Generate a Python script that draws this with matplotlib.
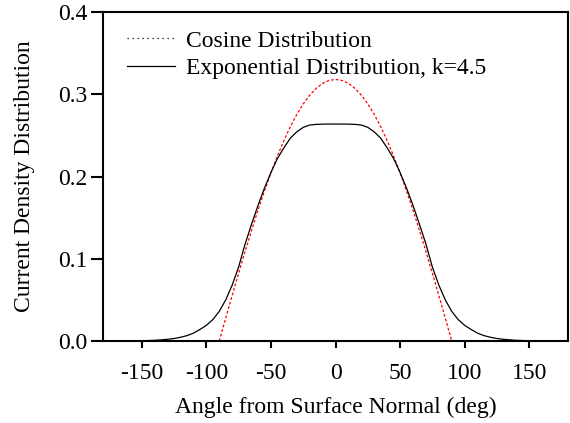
import matplotlib.pyplot as plt
from matplotlib.lines import Line2D
from matplotlib.ticker import FixedLocator

plt.rcParams['font.family'] = ['Liberation Serif', 'DejaVu Serif']

# cosine distribution
cos_angle = [-90, -85, -80, -75, -70, -65, -60, -55, -50, -45, -40, -35, -30, -25, -20, -15, -10, -5,
             0, 5, 10, 15, 20, 25, 30, 35, 40, 45, 50, 55, 60, 65, 70, 75, 80, 85, 90]
cos_value = [0.0, 0.0277, 0.0553, 0.0824, 0.1089, 0.1345, 0.1592, 0.1826, 0.2046, 0.2251, 0.2438,
             0.2607, 0.2757, 0.2885, 0.2991, 0.3075, 0.3135, 0.3171,
             0.3183, 0.3171, 0.3135, 0.3075, 0.2991, 0.2885, 0.2757, 0.2607, 0.2438, 0.2251,
             0.2046, 0.1826, 0.1592, 0.1345, 0.1089, 0.0824, 0.0553, 0.0277, 0.0]

# exponential distribution, k=4.5
exp_angle = [-180, -170, -160, -150, -140, -130, -125, -120, -115, -110, -105, -100, -95, -90,
             -85, -80, -75, -70, -65, -60, -55, -50, -45, -40, -35, -30, -25, -20, -15, -10, -5,
             0, 5, 10, 15, 20, 25, 30, 35, 40, 45, 50, 55, 60, 65, 70, 75, 80, 85,
             90, 95, 100, 105, 110, 115, 120, 125, 130, 140, 150, 160, 170, 180]
exp_value = [0.0, 0.0, 0.0001, 0.0003, 0.0008, 0.002, 0.003, 0.0045, 0.0065, 0.0095, 0.014, 0.019,
             0.026, 0.036, 0.050, 0.068, 0.090, 0.118, 0.142, 0.165, 0.186, 0.205, 0.222, 0.235,
             0.2468, 0.2545, 0.260, 0.2628, 0.2636, 0.2639, 0.2640,
             0.2640, 0.2640, 0.2639, 0.2636, 0.2628, 0.260, 0.2545, 0.2468, 0.235, 0.222, 0.205,
             0.186, 0.165, 0.142, 0.118, 0.090, 0.068, 0.050,
             0.036, 0.026, 0.019, 0.014, 0.0095, 0.0065, 0.0045, 0.003, 0.002, 0.0008, 0.0003,
             0.0001, 0.0, 0.0]

x_ticks = [-150, -100, -50, 0, 50, 100, 150]
long_ticks = [-100, 0, 100]
y_ticks = [0.0, 0.1, 0.2, 0.3, 0.4]

fig = plt.figure(figsize=(5.7, 4.23), dpi=100)
ax = fig.add_axes([0.1807, 0.1939, 0.8158, 0.777])

ax.plot(cos_angle, cos_value, color='red', lw=0.9, dashes=(2.2, 1.6))
ax.plot(exp_angle, exp_value, color='black', lw=0.9)

ax.set_xlim(-180, 180)
ax.set_ylim(0, 0.4)
ax.set_xticks(x_ticks)
ax.set_xticklabels([str(v) for v in x_ticks])
ax.xaxis.set_minor_locator(FixedLocator(long_ticks))
ax.set_yticks(y_ticks)
ax.set_yticklabels(['%.1f' % v for v in y_ticks])

ax.tick_params(axis='x', which='major', direction='out', length=5, width=1.5, pad=11, labelsize=17)
ax.tick_params(axis='x', which='minor', direction='out', length=9.5, width=1.5)
ax.tick_params(axis='y', which='major', direction='out', length=9, width=1.5, pad=2, labelsize=17)
for s in ax.spines.values():
    s.set_linewidth(1.5)

ax.set_xlabel('Angle from Surface Normal (deg)', fontsize=17, labelpad=9)
ax.set_ylabel('Current Density Distribution', fontsize=17, labelpad=17)

handles = [Line2D([], [], color='black', lw=0.9, ls=(0, (1, 3))),
           Line2D([], [], color='black', lw=0.9)]
ax.legend(handles, ['Cosine Distribution', 'Exponential Distribution, k=4.5'],
          loc='upper left', frameon=False, fontsize=17, handlelength=2.05,
          handletextpad=0.45, labelspacing=0.25, borderaxespad=0.35,
          bbox_to_anchor=(0.013, 1.0))

fig.savefig('out.png', dpi=100)
